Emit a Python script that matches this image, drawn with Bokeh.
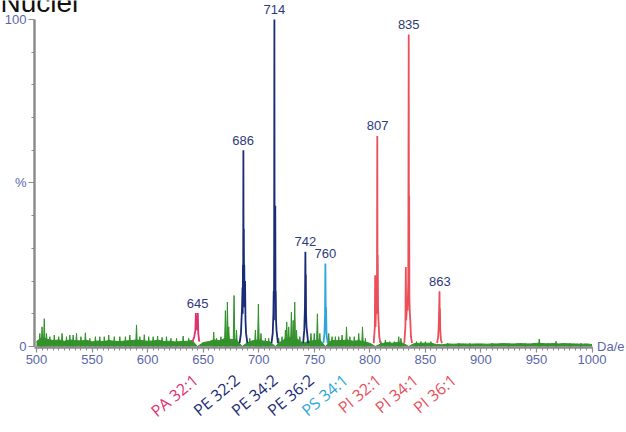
from bokeh.plotting import figure
from bokeh.models import ColumnDataSource, LabelSet, Label, FixedTicker, Range1d
from bokeh.core.properties import value
from bokeh.embed import file_html
from bokeh.resources import INLINE

# ---------------- data ----------------
baseline_mz = [500, 505, 510, 515, 520, 525, 530, 535, 540, 545, 550, 555, 560, 565, 570,
               575, 580, 585, 590, 595, 600, 605, 610, 615, 620, 625, 630, 635, 640, 645,
               650, 655, 660, 665, 670, 675, 680, 685, 690, 695, 700, 705, 710, 715, 720,
               725, 730, 735, 740, 745, 750, 755, 760, 765, 770, 775, 780, 785, 790, 795,
               800, 805, 810, 815, 820, 825, 830, 835, 840, 845, 850, 855, 860, 865, 870,
               875, 880, 885, 890, 895, 900, 905, 910, 915, 920, 925, 930, 935, 940, 945,
               950, 955, 960, 965, 970, 975, 980, 985, 990, 995, 1000]
baseline_int = [1.5, 2.8, 2.2, 1.8, 2.0, 1.6, 2.0, 1.8, 1.7, 1.9, 1.4, 1.7, 1.5, 1.8, 1.6,
                1.5, 1.7, 1.8, 2.0, 1.8, 1.6, 1.7, 1.9, 1.5, 1.6, 1.4, 1.5, 1.6, 1.8, 0.0,
                1.2, 1.5, 2.0, 1.8, 2.5, 2.2, 2.0, 0.0, 1.2, 1.8, 2.0, 1.6, 1.4, 0.0, 1.5,
                2.5, 2.8, 2.2, 1.0, 1.6, 1.8, 2.0, 0.0, 1.8, 1.8, 1.8, 2.0, 1.6, 1.8, 1.4,
                1.0, 0.0, 0.8, 1.2, 1.0, 1.2, 1.0, 0.0, 0.9, 1.0, 1.0, 1.0, 0.6, 0.5, 0.8,
                0.7, 0.8, 0.8, 0.7, 0.8, 0.8, 0.7, 0.8, 0.8, 0.9, 0.8, 0.8, 0.9, 0.8, 0.8,
                1.0, 0.9, 0.8, 0.9, 0.8, 0.9, 0.8, 0.8, 0.7, 0.8, 0.6]

green_peak_mz = [503, 505, 507, 509, 512, 516, 520, 523, 527, 530, 533, 536, 540, 544, 548,
                 553, 557, 561, 565, 570, 575, 580, 584, 590, 593, 597, 601, 605, 609, 613,
                 617, 621, 626, 632, 637, 659.5, 662, 666, 670, 671.8, 673, 677.8, 680, 692,
                 697, 699.7, 702, 706, 709, 718, 721, 724, 725.2, 727, 729.4, 731, 732.4, 734,
                 737, 747, 750, 752.8, 755, 763, 766, 769, 772, 775, 779, 782, 786, 790,
                 793.4, 796, 810, 814, 818, 822, 826, 828, 842, 846, 850, 855, 870, 880,
                 890, 910, 925, 940, 952.5, 960, 967.6, 980, 990]
green_peak_int = [4.0, 6.0, 8.5, 4.0, 3.0, 3.5, 3.0, 4.0, 3.0, 3.5, 3.5, 4.0, 3.0, 4.2, 2.5,
                  3.0, 3.0, 3.0, 3.5, 3.0, 3.0, 3.0, 3.5, 6.6, 3.0, 3.6, 3.0, 3.0, 3.2, 2.8,
                  3.0, 2.5, 2.5, 3.2, 2.5, 4.4, 2.5, 3.0, 11.0, 13.6, 6.0, 15.6, 5.0, 2.5,
                  5.0, 13.0, 4.0, 2.5, 2.5, 2.5, 3.0, 5.0, 7.5, 6.0, 10.5, 8.0, 13.6, 5.0,
                  3.0, 4.0, 4.0, 10.0, 4.0, 4.0, 3.0, 3.0, 3.0, 3.5, 6.0, 3.0, 3.0, 4.0,
                  6.0, 2.5, 1.5, 2.0, 1.5, 1.5, 3.0, 2.5, 1.5, 1.5, 1.5, 1.5, 1.0, 1.0,
                  1.0, 1.0, 1.0, 1.0, 2.3, 1.0, 1.6, 1.0, 1.0]

pa645_mz = [640.5, 642, 643, 643.4, 643.7, 644, 644.3, 644.6, 644.9, 645.2, 645.6, 646.5]
pa645_int = [1.5, 3, 5, 10.2, 5, 8, 5, 9, 6, 10.2, 4, 1.5]

pe686_mz = [682.8, 684, 685, 685.4, 685.6, 685.8, 686.0, 686.2, 686.4, 686.6, 686.8,
            687.0, 687.3, 687.7, 688.1, 688.6, 689.8]
pe686_int = [1, 4, 12, 18, 10, 25, 15, 60, 20, 36, 18, 25, 12, 20, 8, 4, 1]

pe714_mz = [711.5, 712.6, 713.2, 713.5, 713.7, 713.9, 714.1, 714.3, 714.5, 714.7, 714.9,
            715.1, 715.3, 715.6, 716.0, 717.3]
pe714_int = [1, 4, 10, 17, 8, 30, 100, 25, 43, 20, 43, 15, 17, 8, 5, 1]

pe742_mz = [740, 741, 741.6, 741.8, 742.0, 742.2, 742.4, 742.6, 743, 744.5]
pe742_int = [1, 5, 12, 20, 29, 17, 22, 10, 6, 1]

ps760_mz = [758.2, 759.2, 759.7, 760.0, 760.3, 760.6, 761, 762]
ps760_int = [1, 4, 10, 25.4, 9, 12, 4, 1]

pi807_mz = [803.5, 804.5, 804.8, 805.1, 805.6, 806, 806.4, 806.7, 806.9, 807.1, 807.4,
            807.8, 808.5, 809.5]
pi807_int = [1, 6, 21.8, 6, 12, 18, 10, 64.4, 20, 28, 12, 8, 3, 1]

pi835_mz = [831, 832, 832.4, 832.7, 833.2, 833.6, 834, 834.6, 835.0, 835.2, 835.4, 835.6,
            835.9, 836.4, 837, 838]
pi835_int = [1, 6, 24.3, 8, 11, 15, 11, 20, 95.4, 30, 46, 15, 11, 8, 3, 1]

pi863_mz = [860.5, 861.5, 862, 862.4, 862.7, 862.9, 863.1, 863.4, 864, 865]
pi863_int = [1, 3, 6, 11.6, 16.9, 8, 11.6, 5, 2, 1]

peak_label_mz = [645, 686, 714, 742, 760, 807, 835, 863]
peak_label_int = [10.2, 60, 100, 29, 25.4, 64.4, 95.4, 16.9]
peak_label_text = ["645", "686", "714", "742", "760", "807", "835", "863"]

lipid_names = ["PA 32:1", "PE 32:2", "PE 34:2", "PE 36:2", "PS 34:1", "PI 32:1", "PI 34:1", "PI 36:1"]
lipid_class = ["PA", "PE", "PE", "PE", "PS", "PI", "PI", "PI"]

x_tick_values = [500, 550, 600, 650, 700, 750, 800, 850, 900, 950, 1000]
y_tick_values = [0, 50, 100]
y_tick_labels = ["0", "%", "100"]

# ---------------- styles ----------------
GREEN = "#33922c"
CLASS_COLORS = {"PA": "#e0326f", "PE": "#1b2c76", "PS": "#2fa5da", "PI": "#ea4f5a"}
AXIS_GRAY = "#8c8c8c"
TICK_TEXT = "#5a66aa"
PEAK_TEXT = "#2d3a7c"
FONT = "Liberation Sans"

# frame covers the whole canvas; the axes sit at fixed data locations inside it
X0, X1 = 498.2, 1000.0
p = figure(width=626, height=432, output_backend="svg", toolbar_location=None,
           x_range=Range1d(467.6, 1031.0), y_range=Range1d(-26.3, 105.8),
           min_border_left=0, min_border_right=0, min_border_top=0, min_border_bottom=0,
           background_fill_color="white", border_fill_color="white")
p.outline_line_color = None
p.xgrid.visible = False
p.ygrid.visible = False

xa = p.xaxis[0]
ya = p.yaxis[0]
xa.fixed_location = -0.3
ya.fixed_location = X0
xa.bounds = (X0, X1)
ya.bounds = (0, 100)
xa.ticker = FixedTicker(ticks=x_tick_values, minor_ticks=list(range(500, 1001, 5)))
ya.ticker = FixedTicker(ticks=y_tick_values, minor_ticks=[10, 20, 30, 40, 60, 70, 80, 90])
ya.major_label_overrides = {v: t for v, t in zip(y_tick_values, y_tick_labels)}
for ax in (xa, ya):
    ax.axis_line_color = AXIS_GRAY
    ax.axis_line_width = 2.5
    ax.major_tick_line_color = AXIS_GRAY
    ax.minor_tick_line_color = AXIS_GRAY
    ax.major_tick_line_width = 1.2
    ax.minor_tick_line_width = 1
    ax.major_label_text_color = TICK_TEXT
    ax.major_label_text_font = FONT
    ax.major_label_text_font_size = "13px"
    ax.major_tick_in = 0
    ax.minor_tick_in = 0
xa.major_tick_out = 5
xa.minor_tick_out = 3
xa.major_label_standoff = 3
ya.major_tick_out = 6
ya.minor_tick_out = 3
ya.major_label_standoff = 2

# green baseline band
p.varea(x=baseline_mz, y1=0, y2=baseline_int, fill_color=GREEN)
p.line(baseline_mz, baseline_int, line_color=GREEN, line_width=1)

# green (unassigned) peaks
hw = 0.8
gxs = [[m - hw, m, m + hw] for m in green_peak_mz]
gys = [[0, h, 0] for h in green_peak_int]
p.patches(gxs, gys, fill_color=GREEN, line_color=GREEN, line_width=1)

# assigned lipid peaks
for mz, it, cls in [(pa645_mz, pa645_int, "PA"), (pe686_mz, pe686_int, "PE"),
                    (pe714_mz, pe714_int, "PE"), (pe742_mz, pe742_int, "PE"),
                    (ps760_mz, ps760_int, "PS"), (pi807_mz, pi807_int, "PI"),
                    (pi835_mz, pi835_int, "PI"), (pi863_mz, pi863_int, "PI")]:
    p.line(mz, it, line_color=CLASS_COLORS[cls], line_width=1.8)

# peak m/z labels
peak_src = ColumnDataSource(dict(x=peak_label_mz, y=peak_label_int, t=peak_label_text))
p.add_layout(LabelSet(x="x", y="y", text="t", source=peak_src, text_align="center",
                      text_baseline="middle", y_offset=10, text_color=value(PEAK_TEXT),
                      text_font=value(FONT), text_font_size=value("13px")))

# lipid class labels (rotated)
name_dx = [-2, -6, 1, 6, 20, 1, 7, 14]
lip_src = ColumnDataSource(dict(x=peak_label_mz, y=[0] * len(lipid_names), t=lipid_names,
                                c=[CLASS_COLORS[c] for c in lipid_class], dx=name_dx))
p.add_layout(LabelSet(x="x", y="y", text="t", source=lip_src, x_offset="dx", y_offset=-31,
                      angle=40, angle_units="deg", text_align="right", text_baseline="middle",
                      text_color="c", text_font=value("Open Sans"),
                      text_font_size=value("16px")))

# axis unit label
p.add_layout(Label(x=X1, y=0, text="Da/e", x_offset=5, y_offset=0, text_align="left",
                   text_baseline="middle", text_color=TICK_TEXT, text_font=FONT,
                   text_font_size="13px"))

# panel title (cut off at the top, as in the reference)
p.add_layout(Label(x=467.6, y=100.6, text="Nuclei", text_align="left",
                   text_baseline="bottom", text_color="#111111", text_font=FONT,
                   text_font_size="28px"))

open("out.html", "w").write(file_html(p, INLINE))
